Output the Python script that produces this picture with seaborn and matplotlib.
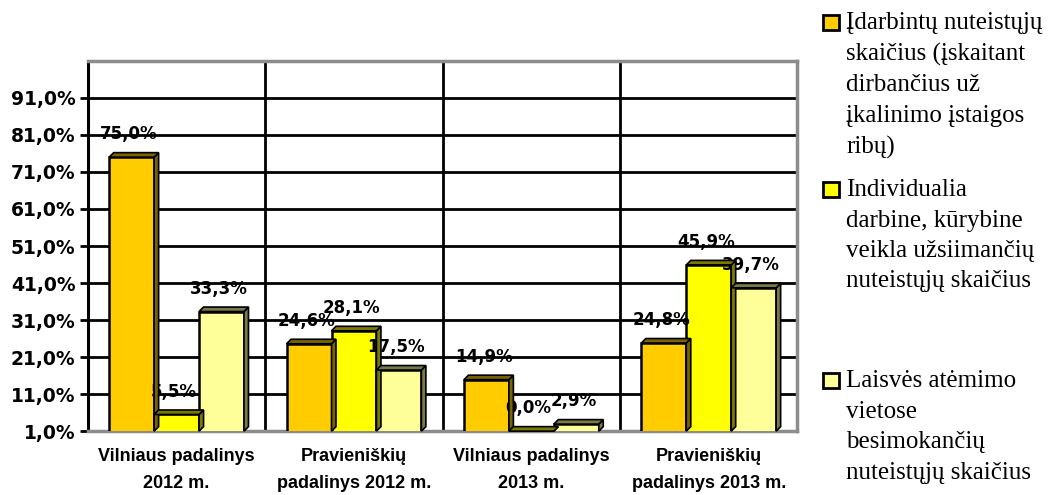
import matplotlib
matplotlib.use("Agg")
import matplotlib.pyplot as plt
from matplotlib.patches import Rectangle, Polygon
from matplotlib import font_manager
import seaborn as sns
import pandas as pd
import numpy as np

categories = ["Vilniaus padalinys\n2012 m.", "Pravieniškių\npadalinys 2012 m.",
              "Vilniaus padalinys\n2013 m.", "Pravieniškių\npadalinys 2013 m."]
series_names = [
    "Įdarbintų nuteistųjų\nskaičius (įskaitant\ndirbančius už\nįkalinimo įstaigos\nribų)",
    "Individualia\ndarbine, kūrybine\nveikla užsiimančių\nnuteistųjų skaičius",
    "Laisvės atėmimo\nvietose\nbesimokančių\nnuteistųjų skaičius",
]
employed = [75.0, 24.6, 14.9, 24.8]
individual = [5.5, 28.1, 0.0, 45.9]
studying = [33.3, 17.5, 2.9, 39.7]
colors = ["#FFCC00", "#FFFF00", "#FFFF99"]
side_colors = ["#7A6200", "#7A7A00", "#7A7A48"]
yticks = [1, 11, 21, 31, 41, 51, 61, 71, 81, 91]

rows = []
for s, vals in zip(series_names, [employed, individual, studying]):
    for c, v in zip(categories, vals):
        rows.append({"cat": c, "series": s, "value": v})
df = pd.DataFrame(rows)

def has_font(name):
    try:
        font_manager.findfont(name, fallback_to_default=False)
        return True
    except Exception:
        return False

xfont = "Liberation Sans Narrow" if has_font("Liberation Sans Narrow") else "Liberation Sans"
xsize = 14.5 if xfont == "Liberation Sans Narrow" else 13

sns.set_theme(style="white")
plt.rcParams["font.family"] = ["DejaVu Sans"]
plt.rcParams["text.color"] = "black"
plt.rcParams["xtick.color"] = "black"
plt.rcParams["ytick.color"] = "black"
plt.rcParams["xtick.labelcolor"] = "black"
plt.rcParams["ytick.labelcolor"] = "black"

fig = plt.figure(figsize=(10.59, 4.95), dpi=100)
ax = fig.add_axes([0.083, 0.129, 0.670, 0.748])

sns.barplot(data=df, x="cat", y="value", hue="series", palette=colors,
            saturation=1, width=0.76, edgecolor="black", linewidth=1.8, ax=ax,
            legend=False, zorder=3)

ax.set_ylim(1, 101)
ax.set_xlim(-0.5, 3.5)

# 3D-like depth faces for each bar
depth = 4.5  # pixels
for ci, cont in enumerate(ax.containers):
    for p in cont.patches:
        x0, y0 = p.get_x(), max(p.get_y(), 1)
        w, h = p.get_width(), p.get_height()
        y1 = max(y0, p.get_y() + h)
        pts = ax.transData.transform([(x0 + w, y0), (x0 + w, y1), (x0, y1)])
        o = np.array([depth, depth])
        side = Polygon([pts[0], pts[0] + o, pts[1] + o, pts[1]],
                       closed=True, transform=None, facecolor=side_colors[ci],
                       edgecolor="black", linewidth=1.2, zorder=2.9)
        top = Polygon([pts[2], pts[2] + o, pts[1] + o, pts[1]],
                      closed=True, transform=None, facecolor=side_colors[ci],
                      edgecolor="black", linewidth=1.2, zorder=2.9)
        fig.add_artist(side)
        fig.add_artist(top)
        label = f"{p.get_y() + h:.1f}%".replace(".", ",")
        ax.annotate(label, (x0 + w / 2, y1), xytext=(-2, 10), textcoords="offset points",
                    ha="center", va="bottom", fontsize=12, fontweight="bold",
                    color="black", zorder=5, annotation_clip=False)

# grid
ax.set_yticks(yticks)
ax.set_yticklabels([f"{t:.1f}%".replace(".", ",") for t in yticks],
                   fontsize=13.5, fontweight="bold", color="black")
for t in yticks:
    ax.axhline(t, color="black", linewidth=2, zorder=1)
for xb in [0.5, 1.5, 2.5]:
    ax.axvline(xb, color="black", linewidth=2, zorder=1)

ax.set_xticks(range(len(categories)))
ax.set_xticklabels(categories, fontsize=xsize, fontweight="bold",
                   fontfamily=xfont, linespacing=1.75, color="black")
ax.tick_params(axis="x", length=0, pad=12)
ax.set_xticks([-0.5, 0.5, 1.5, 2.5, 3.5], minor=True)
ax.tick_params(axis="x", which="minor", length=7, width=2, color="black", direction="out")
ax.tick_params(axis="y", length=6, width=2, color="black", direction="out", pad=3, left=True)

for side_name in ["top", "right", "bottom"]:
    ax.spines[side_name].set_color("#8c8c8c")
    ax.spines[side_name].set_linewidth(2.5)
ax.spines["left"].set_color("black")
ax.spines["left"].set_linewidth(2.2)
ax.set_xlabel("")
ax.set_ylabel("")

# legend (manual, Excel style)
legend_y = [22, 189, 380]
for name, col, yy in zip(series_names, colors, legend_y):
    yf = 1 - yy / 495
    fig.add_artist(Rectangle((823 / 1059, yf - 8 / 495), 16 / 1059, 15 / 495,
                             transform=fig.transFigure, facecolor=col,
                             edgecolor="black", linewidth=2))
    fig.text(846 / 1059, yf + 10 / 495, name, ha="left", va="top", color="black",
             fontsize=18, family="Liberation Serif", linespacing=1.5)

fig.savefig("out.png", dpi=100)
